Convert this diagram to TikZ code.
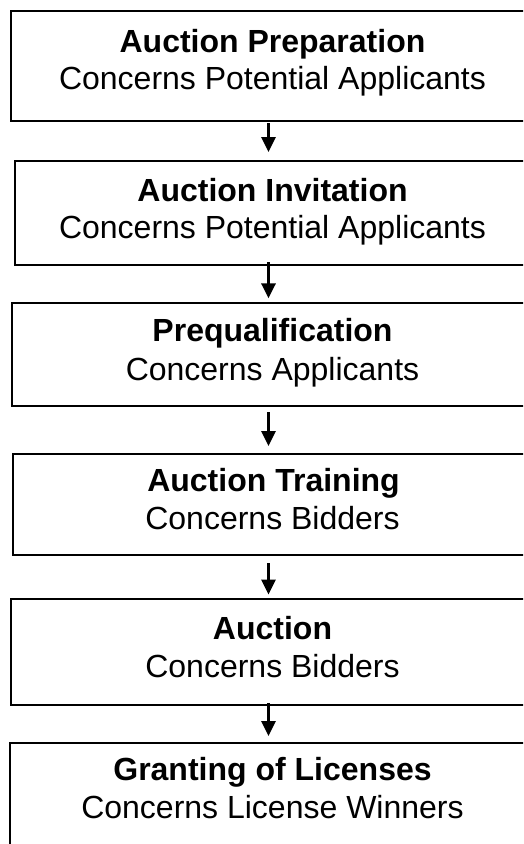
\documentclass[tikz,border=0pt]{standalone}
\usepackage{fontspec}
\setmainfont{Liberation Sans}
\usetikzlibrary{arrows.meta}
\tikzset{
  box/.style={draw=black, line width=2pt, rectangle, outer sep=0pt, inner sep=0pt, anchor=north west, minimum width=540pt},
  ttl/.style={anchor=base, inner sep=0pt, font=\fontsize{32}{37}\selectfont\bfseries},
  sub/.style={anchor=base, inner sep=0pt, font=\fontsize{32}{37}\selectfont},
  arr/.style={line width=3.2pt, -{Triangle[width=14pt,length=15pt]}}
}
\begin{document}
\begin{tikzpicture}[x=1pt,y=-1pt]
\useasboundingbox (0,0) rectangle (523,844);
\clip (0,0) rectangle (523,844);
\node[box, minimum height=110pt] (b1) at (11,11) {};
\node[box, minimum height=104pt] (b2) at (15,161) {};
\node[box, minimum height=103pt] (b3) at (11.5,303) {};
\node[box, minimum height=101pt] (b4) at (13,454) {};
\node[box, minimum height=106pt] (b5) at (11,599) {};
\node[box, minimum height=140pt] (b6) at (10,743) {};
\node[ttl] (t1) at (272.5,52) {Auction Preparation};
\node[sub] (s1) at (272.5,89) {Concerns Potential Applicants};
\node[ttl] (t2) at (272.5,201) {Auction Invitation};
\node[sub] (s2) at (272.5,238) {Concerns Potential Applicants};
\node[ttl] (t3) at (272.5,341.5) {Prequalification};
\node[sub] (s3) at (272.5,380) {Concerns Applicants};
\node[ttl] (t4) at (273.5,491.5) {Auction Training};
\node[sub] (s4) at (272.5,529) {Concerns Bidders};
\node[ttl] (t5) at (272.5,639) {Auction};
\node[sub] (s5) at (272.5,677) {Concerns Bidders};
\node[ttl] (t6) at (272.5,780.5) {Granting of Licenses};
\node[sub] (s6) at (272.5,818) {Concerns License Winners};
\coordinate (ax) at (268.5,0);
\draw[arr, shorten <=2pt, shorten >=9pt] (ax |- b1.south) -- (ax |- b2.north);
\draw[arr, shorten <=-3pt, shorten >=4.7pt] (ax |- b2.south) -- (ax |- b3.north);
\draw[arr, shorten <=6pt, shorten >=8pt] (ax |- b3.south) -- (ax |- b4.north);
\draw[arr, shorten <=8pt, shorten >=4.5pt] (ax |- b4.south) -- (ax |- b5.north);
\draw[arr, shorten <=-2pt, shorten >=7pt] (ax |- b5.south) -- (ax |- b6.north);
\end{tikzpicture}
\end{document}
